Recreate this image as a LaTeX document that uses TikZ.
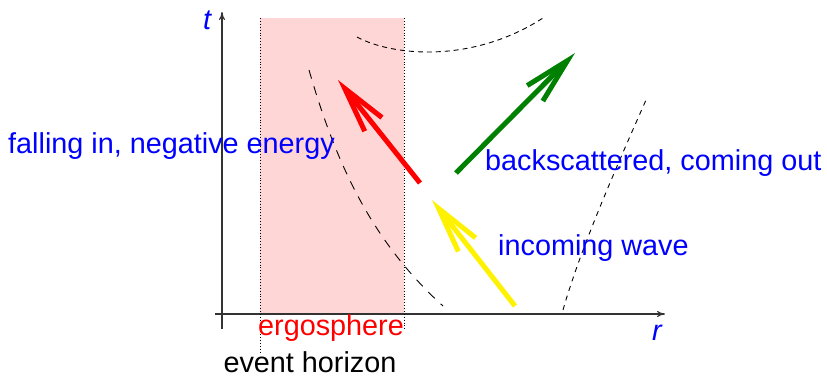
\documentclass[tikz,border=0pt]{standalone}
\usepackage{fontspec}
\setmainfont{Liberation Sans}
\usetikzlibrary{arrows.meta}
\tikzset{
  lbl/.style={inner sep=0pt, font=\fontsize{28.8}{32}\selectfont},
  bigarrow/.style={line width=5pt, -{Straight Barb[length=46pt,width=22pt,line width=5pt]}},
  axis/.style={line width=1.2pt, -{To[length=8pt,width=6pt]}, draw=black!80},
}
\begin{document}
\begin{tikzpicture}[x=1pt,y=-1pt]
\useasboundingbox (0,0) rectangle (827,378);
% ergosphere band
\fill[red!16] (260,18) rectangle (404,314);
% axes
\draw[axis] (222,329) -- (222,12);
\draw[axis] (215,314) -- (665,314);
\node[lbl, text=blue, font=\fontsize{28.8}{32}\selectfont\itshape] (tlab) at (207,20) {t};
\node[lbl, text=blue, font=\fontsize{28.8}{32}\selectfont\itshape] (rlab) at (657,333) {r};
% dotted boundaries
\draw[dotted, line width=0.9pt] (260,18) -- (260,352);
\draw[dotted, line width=0.9pt] (404,18) -- (404,330);
% curves
\draw[dash pattern=on 5pt off 4pt, line width=0.9pt] (357,37) .. controls (390,55) and (470,65) .. (543,18);
\draw[dash pattern=on 9pt off 8pt, line width=0.9pt] (309,70) .. controls (335,160) and (370,240) .. (443,306);
\draw[dash pattern=on 5pt off 5pt, line width=0.9pt] (563,310) .. controls (580,250) and (615,170) .. (646,100);
% arrows
\coordinate (rs) at (420,183); \coordinate (re) at (338,80);
\coordinate (gs) at (456,173); \coordinate (ge) at (575,53);
\coordinate (ys) at (515,306); \coordinate (ye) at (432,200);
\draw[bigarrow, red] (rs) -- (re);
\draw[bigarrow, green!50!black] (gs) -- (ge);
\draw[bigarrow, yellow] (ys) -- (ye);
% labels
\node[lbl, text=blue, anchor=west] (fall) at (8,146) {falling in, negative energy};
\node[lbl, text=blue, anchor=west] (back) at (485,163) {backscattered, coming out};
\node[lbl, text=blue, anchor=west] (inc) at (498,248) {incoming wave};
\node[lbl, text=red] (ergo) at (331,328) {ergosphere};
\node[lbl, text=black] (eh) at (310,362) {event horizon};
\end{tikzpicture}
\end{document}
